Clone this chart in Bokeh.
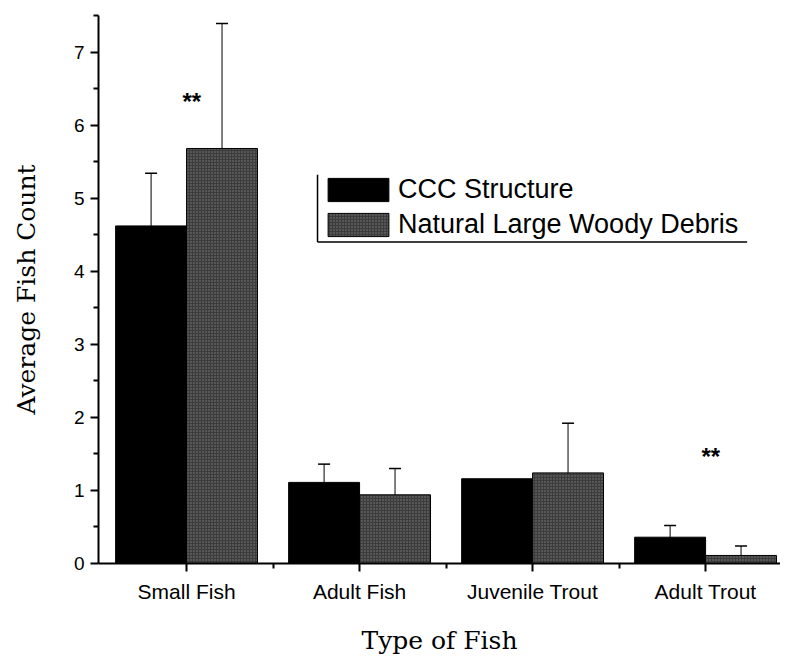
from bokeh.plotting import figure
from bokeh.models import (ColumnDataSource, FixedTicker, Range1d, Whisker, TeeHead,
                          Legend, LegendItem)
from bokeh.transform import dodge
from bokeh.core.properties import value
from bokeh.embed import file_html
from bokeh.resources import INLINE
import numpy as np

# ---- data ----
categories = ["Small Fish", "Adult Fish", "Juvenile Trout", "Adult Trout"]
ccc_mean = [4.62, 1.11, 1.16, 0.36]
ccc_err = [0.72, 0.25, 0.0, 0.16]
lwd_mean = [5.68, 0.94, 1.24, 0.11]
lwd_err = [1.71, 0.36, 0.68, 0.13]
sig_categories = ["Small Fish", "Adult Trout"]
sig_labels = ["**", "**"]
sig_y = [6.32, 1.46]

x = np.arange(len(categories), dtype=float)
ccc_m, ccc_e = np.array(ccc_mean), np.array(ccc_err)
lwd_m, lwd_e = np.array(lwd_mean), np.array(lwd_err)
src = ColumnDataSource(dict(
    x=x, ccc=ccc_mean, lwd=lwd_mean,
    lwd_lo=lwd_m - lwd_e, lwd_hi=lwd_m + lwd_e,
))
has_err = ccc_e > 0
src1 = ColumnDataSource(dict(base=x[has_err], lo=(ccc_m - ccc_e)[has_err], hi=(ccc_m + ccc_e)[has_err]))

SANS = "Liberation Sans"
SERIF = "DejaVu Serif"

p = figure(width=780, height=658, output_backend="svg", toolbar_location=None,
           x_range=Range1d(-0.509, 3.433), y_range=Range1d(0, 7.5),
           min_border_left=98, min_border_top=15, min_border_bottom=95, min_border_right=0)
p.outline_line_color = None
p.xgrid.visible = False
p.ygrid.visible = False
p.background_fill_color = "white"
p.border_fill_color = "white"

off = 0.205
bw = 0.41
r1 = p.vbar(x=dodge("x", -off, range=p.x_range), top="ccc", width=bw, source=src,
            fill_color="black", line_color="black", line_width=1)
r2 = p.vbar(x=dodge("x", off, range=p.x_range), top="lwd", width=bw, source=src,
            fill_color="#3c3c3c", line_color="black", line_width=1,
            hatch_pattern="dot", hatch_color="#8c8c8c", hatch_scale=3, hatch_weight=1, hatch_alpha=0.8)

w1 = Whisker(base=dodge("base", -off, range=p.x_range), lower="lo", upper="hi", source=src1,
             line_color="black", line_width=1,
             upper_head=TeeHead(size=12, line_color="black", line_width=1.5),
             lower_head=TeeHead(size=12, line_color="black", line_width=1.5))
w2 = Whisker(base=dodge("x", off, range=p.x_range), lower="lwd_lo", upper="lwd_hi", source=src,
             line_color="black", line_width=1,
             upper_head=TeeHead(size=12, line_color="black", line_width=1.5),
             lower_head=TeeHead(size=12, line_color="black", line_width=1.5))
p.add_layout(w1)
p.add_layout(w2)

# significance markers
sig_x = [categories.index(c) + 0.03 for c in sig_categories]
p.text(x=sig_x, y=sig_y, text=sig_labels, text_font=value(SANS), text_font_size="24px",
       text_font_style="bold", text_align="center", text_baseline="middle", text_color="black")

# axes
xa = p.xaxis[0]
xa.ticker = FixedTicker(ticks=list(x), minor_ticks=list(x[:-1] + 0.5))
xa.major_label_overrides = {int(i): c for i, c in enumerate(categories)}
xa.axis_label = "Type of Fish"
ya = p.yaxis[0]
ya.ticker = FixedTicker(ticks=list(range(0, 8)), minor_ticks=list(np.arange(0.5, 7.6, 1.0)))
ya.axis_label = "Average Fish Count"
for ax in (xa, ya):
    ax.axis_line_width = 2
    ax.axis_line_color = "black"
    ax.major_tick_line_width = 2
    ax.minor_tick_line_width = 2
    ax.major_tick_in = 0
    ax.major_tick_out = 8
    ax.minor_tick_in = 0
    ax.minor_tick_out = 5
    ax.major_label_text_font = SANS
    ax.major_label_text_color = "black"
    ax.axis_label_text_font = SERIF
    ax.axis_label_text_font_style = "normal"
    ax.axis_label_text_color = "black"
    ax.axis_label_text_font_size = "25px"
xa.major_label_text_font_size = "21px"
ya.major_label_text_font_size = "19px"
xa.major_label_standoff = 8
ya.major_label_standoff = 6
xa.axis_label_standoff = 20
ya.axis_label_standoff = 30

# legend
legend = Legend(items=[LegendItem(label="CCC Structure", renderers=[r1]),
                       LegendItem(label="Natural Large Woody Debris", renderers=[r2])],
                location=(219, 320), orientation="vertical",
                glyph_width=76, glyph_height=29, label_standoff=2, spacing=4,
                padding=3, margin=0, border_line_alpha=0, background_fill_alpha=0,
                label_text_font=SANS, label_text_font_size="27px", label_text_color="black",
                label_height=29)
p.add_layout(legend, "center")
# partial legend frame (left and bottom edges only)
p.segment(x0=[0.757, 0.757], y0=[4.40, 4.40], x1=[0.757, 3.24], y1=[5.32, 4.40],
          line_color="black", line_width=1.5)

open("out.html", "w").write(file_html(p, INLINE))
